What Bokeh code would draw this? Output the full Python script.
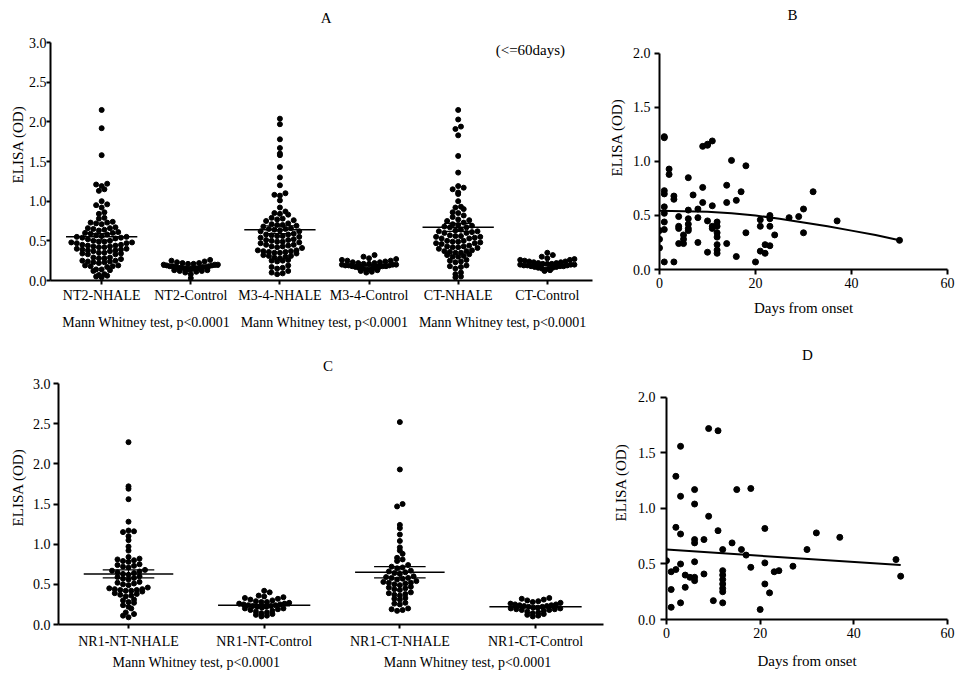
import numpy as np
from bokeh.plotting import figure
from bokeh.layouts import row, column
from bokeh.models import Range1d, FixedTicker, LinearAxis, Label, NumeralTickFormatter
from bokeh.embed import file_html
from bokeh.resources import INLINE

FONT = "Liberation Serif"

# ---------------- data ----------------
cats_A = ["NT2-NHALE", "NT2-Control", "M3-4-NHALE", "M3-4-Control", "CT-NHALE", "CT-Control"]
A_nt2_nhale = [2.15, 1.92, 1.58, 1.22, 1.21, 1.19, 1.15, 1.13, 1.00, 0.96, 0.95, 0.92, 0.86, 0.84, 0.79, 0.78,
               0.74, 0.73, 0.73, 0.72, 0.71, 0.67, 0.66, 0.66, 0.65, 0.64, 0.63,
               0.61, 0.60, 0.60, 0.59, 0.58, 0.57, 0.56, 0.55, 0.55, 0.54, 0.54, 0.53, 0.52,
               0.50, 0.50, 0.49, 0.49, 0.48, 0.48, 0.47, 0.47, 0.45, 0.45, 0.44, 0.44, 0.43, 0.43, 0.42, 0.42,
               0.40, 0.40, 0.39, 0.39, 0.38, 0.38, 0.37, 0.37, 0.35, 0.35, 0.34, 0.34, 0.33, 0.33,
               0.29, 0.29, 0.28, 0.28, 0.27, 0.25, 0.25, 0.24, 0.24, 0.23, 0.23, 0.22,
               0.19, 0.19, 0.18, 0.18, 0.17, 0.14, 0.14, 0.13, 0.12, 0.08, 0.07, 0.06, 0.05, 0.04]
A_nt2_ctrl = [0.26, 0.25, 0.24, 0.23, 0.22, 0.22, 0.21, 0.21, 0.20, 0.20, 0.20, 0.19, 0.19, 0.18, 0.18, 0.18,
              0.17, 0.17, 0.17, 0.16, 0.16, 0.16, 0.15, 0.15, 0.15, 0.14, 0.14, 0.13, 0.13, 0.12, 0.12,
              0.11, 0.10, 0.08, 0.03]
A_m34_nhale = [2.04, 1.97, 1.78, 1.67, 1.60, 1.58, 1.43, 1.30, 1.20, 1.10, 1.08, 1.07, 1.01, 0.92, 0.87, 0.85, 0.84, 0.83,
               0.79, 0.78, 0.77, 0.76, 0.75, 0.72, 0.71, 0.70, 0.70, 0.69, 0.68,
               0.66, 0.65, 0.65, 0.64, 0.63, 0.62, 0.62, 0.59, 0.58, 0.58, 0.57, 0.56, 0.56, 0.55, 0.54,
               0.52, 0.51, 0.51, 0.50, 0.49, 0.49, 0.48, 0.47, 0.45, 0.45, 0.44, 0.43, 0.43, 0.42, 0.41,
               0.38, 0.38, 0.37, 0.37, 0.36, 0.36, 0.35, 0.35, 0.34, 0.32, 0.31, 0.31, 0.30, 0.29, 0.28,
               0.26, 0.25, 0.25, 0.24, 0.19, 0.17, 0.16, 0.15, 0.12, 0.10, 0.09, 0.08]
A_m34_ctrl = [0.32, 0.30, 0.28, 0.27, 0.26, 0.25, 0.25, 0.24, 0.23, 0.23, 0.22, 0.22, 0.21, 0.21, 0.20, 0.20,
              0.20, 0.19, 0.19, 0.19, 0.18, 0.18, 0.18, 0.17, 0.17, 0.16, 0.16, 0.15, 0.15, 0.14, 0.14,
              0.13, 0.12, 0.11, 0.10]
A_ct_nhale = [2.15, 2.03, 1.94, 1.91, 1.83, 1.57, 1.36, 1.19, 1.17, 1.15, 1.11, 1.09, 1.00, 0.93, 0.92, 0.90,
              0.86, 0.85, 0.82, 0.80, 0.77, 0.76, 0.75, 0.73, 0.71, 0.70, 0.69, 0.68, 0.67, 0.67,
              0.64, 0.63, 0.62, 0.62, 0.61, 0.60, 0.60, 0.57, 0.56, 0.56, 0.55, 0.55, 0.54, 0.53, 0.53,
              0.50, 0.50, 0.49, 0.49, 0.48, 0.47, 0.47, 0.46, 0.44, 0.43, 0.43, 0.42, 0.42, 0.41, 0.40,
              0.38, 0.37, 0.37, 0.36, 0.35, 0.35, 0.33, 0.32, 0.31, 0.30, 0.30,
              0.26, 0.25, 0.24, 0.23, 0.19, 0.18, 0.17, 0.15, 0.10, 0.08, 0.05, 0.04]
A_ct_ctrl = [0.35, 0.32, 0.30, 0.28, 0.27, 0.26, 0.26, 0.25, 0.24, 0.24, 0.23, 0.23, 0.22, 0.22, 0.21, 0.21,
             0.21, 0.20, 0.20, 0.20, 0.19, 0.19, 0.19, 0.18, 0.18, 0.18, 0.17, 0.17, 0.16, 0.16, 0.15, 0.15,
             0.14, 0.13, 0.12]
A_means = [0.55, 0.17, 0.64, 0.19, 0.67, 0.20]
A_sem = [0.04, 0.01, 0.05, 0.01, 0.05, 0.01]

cats_C = ["NR1-NT-NHALE", "NR1-NT-Control", "NR1-CT-NHALE", "NR1-CT-Control"]
C_nt_nhale = [2.27, 1.72, 1.69, 1.56, 1.28, 1.17, 1.16, 1.15, 1.10, 1.05, 0.97, 0.92, 0.84, 0.82, 0.81, 0.80, 0.79, 0.78,
              0.75, 0.74, 0.73, 0.72, 0.71, 0.68, 0.67, 0.66, 0.65, 0.64, 0.63, 0.62,
              0.60, 0.59, 0.58, 0.57, 0.56, 0.53, 0.52, 0.51, 0.50, 0.49,
              0.46, 0.45, 0.44, 0.44, 0.43, 0.43, 0.42, 0.42, 0.41, 0.39, 0.38, 0.37, 0.36, 0.35,
              0.31, 0.30, 0.28, 0.27, 0.24, 0.22, 0.20, 0.15, 0.13, 0.11, 0.09]
C_nt_ctrl = [0.42, 0.40, 0.36, 0.35, 0.34, 0.33, 0.32, 0.31, 0.30, 0.29, 0.28, 0.28, 0.27, 0.26, 0.26, 0.25,
             0.25, 0.24, 0.24, 0.23, 0.23, 0.22, 0.22, 0.21, 0.20, 0.20, 0.19, 0.18, 0.17, 0.16, 0.15,
             0.14, 0.13, 0.12, 0.11, 0.10]
C_ct_nhale = [2.52, 1.93, 1.50, 1.47, 1.24, 1.20, 1.12, 1.04, 0.96, 0.92, 0.88, 0.83, 0.81, 0.79,
              0.74, 0.72, 0.71, 0.70, 0.67, 0.66, 0.65, 0.64, 0.63, 0.60, 0.59, 0.58, 0.58, 0.57, 0.56,
              0.54, 0.53, 0.52, 0.52, 0.51, 0.50, 0.49, 0.47, 0.46, 0.45, 0.44, 0.43,
              0.40, 0.39, 0.38, 0.37, 0.36, 0.33, 0.32, 0.31, 0.27, 0.26, 0.25, 0.20, 0.19, 0.18, 0.17]
C_ct_ctrl = [0.33, 0.32, 0.31, 0.30, 0.29, 0.28, 0.27, 0.26, 0.25, 0.25, 0.24, 0.24, 0.23, 0.23, 0.22, 0.22,
             0.21, 0.21, 0.20, 0.20, 0.19, 0.19, 0.18, 0.18, 0.17, 0.16, 0.15, 0.14, 0.13, 0.12, 0.11, 0.10]
C_means = [0.63, 0.24, 0.65, 0.22]
C_sem = [0.05, 0.01, 0.07, 0.01]

mw_text = "Mann Whitney test, p<0.0001"

B_days = [0, 0, 0, 1, 1, 1, 1, 1, 1, 1, 1, 1, 2, 2, 3, 3, 3, 4, 4, 4, 4, 5, 5, 5, 6, 6, 6, 6, 6, 6, 7, 8, 8, 8,
          9, 9, 9, 10, 10, 10, 10, 11, 11, 11, 11, 12, 12, 12, 12, 12, 12, 12, 14, 14, 14, 15, 16, 16, 17,
          18, 18, 20, 21, 21, 21, 22, 22, 23, 23, 23, 23, 24, 27, 29, 30, 30, 32, 37, 50]
B_od = [0.20, 0.28, 0.36, 1.22, 1.23, 0.73, 0.70, 0.58, 0.52, 0.44, 0.37, 0.07, 0.93, 0.88, 0.68, 0.65, 0.07,
        0.49, 0.40, 0.38, 0.24, 0.24, 0.28, 0.32, 0.85, 0.55, 0.47, 0.42, 0.38, 0.36, 0.69, 0.56, 0.48, 0.25,
        1.14, 0.76, 0.62, 1.15, 1.16, 0.45, 0.16, 1.19, 0.59, 0.40, 0.38, 0.44, 0.40, 0.34, 0.30, 0.23, 0.18,
        0.15, 0.78, 0.62, 0.24, 1.01, 0.64, 0.12, 0.72, 0.96, 0.34, 0.07, 0.46, 0.40, 0.17, 0.23, 0.15,
        0.50, 0.47, 0.40, 0.22, 0.32, 0.48, 0.49, 0.56, 0.34, 0.72, 0.45, 0.27]
B_fit_days = [0, 5, 10, 15, 20, 25, 30, 35, 40, 45, 50]
B_fit_od = [0.545, 0.54, 0.535, 0.52, 0.50, 0.47, 0.435, 0.40, 0.36, 0.32, 0.27]

D_days = [0, 1, 1, 1, 2, 2, 2, 3, 3, 3, 3, 3, 4, 4, 5, 6, 6, 6, 6, 6, 6, 6, 8, 8, 9, 9, 10, 11, 11,
          12, 12, 12, 12, 12, 12, 12, 12, 14, 15, 16, 17, 18, 18, 20, 21, 21, 21, 22, 23, 24, 27, 30, 32, 37, 49, 50]
D_od = [0.53, 0.43, 0.27, 0.11, 1.29, 0.83, 0.45, 1.56, 1.11, 0.77, 0.50, 0.15, 0.40, 0.29, 0.38,
        1.17, 1.04, 0.72, 0.69, 0.52, 0.38, 0.35, 0.72, 0.41, 1.72, 0.93, 0.17, 1.70, 0.80,
        0.63, 0.44, 0.40, 0.36, 0.32, 0.28, 0.25, 0.15, 0.69, 1.17, 0.63, 0.58, 1.18, 0.47, 0.09,
        0.82, 0.51, 0.32, 0.24, 0.43, 0.44, 0.48, 0.63, 0.78, 0.74, 0.54, 0.39]
D_fit_days = [0, 50]
D_fit_od = [0.63, 0.49]


# ---------------- helpers ----------------
def row_spread(vals, center, pxx, pxy, row_h=5.5, step=5.5, max_half=30.0):
    """GraphPad-like column scatter: values binned in pixel rows, spread horizontally."""
    vals = np.asarray(vals, dtype=float)
    xs = np.zeros(len(vals))
    bins = np.floor(vals * pxy / row_h).astype(int)
    for b in np.unique(bins):
        idx = np.where(bins == b)[0]
        idx = idx[np.argsort(vals[idx])]
        n = len(idx)
        s = step if n <= 1 else min(step, 2 * max_half / (n - 1))
        offs = (np.arange(n) - (n - 1) / 2.0) * s
        # alternate by rank so slightly higher values are not all on one side
        order = np.argsort(np.abs(offs) + 0.01 * np.arange(n))
        for k, j in enumerate(idx):
            xs[j] = center + offs[order[k]] / pxx
    return xs


def style_axes(p, tick_out, label_standoff, axis_label_standoff, ybound):
    for ax in p.xaxis + p.yaxis:
        ax.axis_line_width = 2
        ax.axis_line_color = "black"
        ax.major_tick_line_width = 2
        ax.major_tick_line_color = "black"
        ax.major_tick_in = 0
        ax.minor_tick_line_color = None
        ax.major_label_text_font = FONT
        ax.major_label_text_font_size = "14px"
        ax.major_label_text_color = "black"
        ax.axis_label_text_font = FONT
        ax.axis_label_text_font_size = "15px"
        ax.axis_label_text_font_style = "normal"
        ax.axis_label_text_color = "black"
    p.yaxis.major_tick_out = tick_out
    p.yaxis.major_label_standoff = label_standoff
    p.yaxis.axis_label_standoff = axis_label_standoff
    p.yaxis.bounds = (0, ybound)
    p.yaxis.formatter = NumeralTickFormatter(format="0.0")
    p.xgrid.grid_line_color = None
    p.ygrid.grid_line_color = None
    p.outline_line_color = None


def add_text(p, text, x, y):
    p.add_layout(Label(x=x, y=y, text=text, text_font=FONT, text_font_size="15px",
                       text_align="center", text_baseline="middle", text_color="black"))


def dot_panel(cats, groups, means, sems, width, height, borders, xr, ytop, pxx, pxy,
              mean_hw, sem_hw, lab_standoff, mw_standoff, ylab_standoffs, spreads):
    p = figure(width=width, height=height, output_backend="svg", toolbar_location=None,
               x_range=Range1d(*xr), y_range=Range1d(0, ytop), frame_align=False,
               min_border_left=borders[0], min_border_right=borders[1],
               min_border_top=borders[2], min_border_bottom=borders[3])
    positions = list(range(1, len(cats) + 1))
    for pos, vals, mh in zip(positions, groups, spreads):
        xs = row_spread(vals, pos, pxx, pxy, max_half=mh)
        p.scatter(xs, vals, marker="circle", size=5, color="black")
    # mean lines and SEM
    x0 = [pos - mean_hw[i] for i, pos in enumerate(positions)]
    x1 = [pos + mean_hw[i] for i, pos in enumerate(positions)]
    p.segment(x0, means, x1, means, line_color="black", line_width=1.5)
    up = [m + s for m, s in zip(means, sems)]
    dn = [m - s for m, s in zip(means, sems)]
    sx0 = [pos - sem_hw for pos in positions]
    sx1 = [pos + sem_hw for pos in positions]
    p.segment(sx0, up, sx1, up, line_color="black", line_width=1.2)
    p.segment(sx0, dn, sx1, dn, line_color="black", line_width=1.2)
    p.segment(positions, dn, positions, up, line_color="black", line_width=1.2)

    p.xaxis.ticker = FixedTicker(ticks=positions)
    p.xaxis.major_label_overrides = {pos: c for pos, c in zip(positions, cats)}
    p.xaxis.major_tick_out = 4
    p.xaxis.major_label_standoff = lab_standoff
    p.yaxis.ticker = FixedTicker(ticks=[0, 0.5, 1.0, 1.5, 2.0, 2.5, 3.0])
    p.yaxis.axis_label = "ELISA (OD)"
    style_axes(p, *ylab_standoffs, 3.0)

    mw_pos = [positions[i] + 0.5 for i in range(0, len(positions), 2)]
    mw = LinearAxis(ticker=FixedTicker(ticks=mw_pos),
                    major_label_overrides={m: mw_text for m in mw_pos},
                    axis_line_color=None, major_tick_line_color=None, minor_tick_line_color=None,
                    major_tick_out=0, major_tick_in=0, major_label_standoff=mw_standoff,
                    major_label_text_font=FONT, major_label_text_font_size="14px",
                    major_label_text_color="black")
    p.add_layout(mw, "below")
    return p


def scatter_panel(days, od, fdays, fod, width, height, borders, ytop, ylab_standoffs, xlab_standoff):
    p = figure(width=width, height=height, output_backend="svg", toolbar_location=None,
               x_range=Range1d(0, 60), y_range=Range1d(0, ytop), frame_align=False,
               min_border_left=borders[0], min_border_right=borders[1],
               min_border_top=borders[2], min_border_bottom=borders[3])
    p.scatter(days, od, marker="circle", size=6, color="black")
    p.line(fdays, fod, line_color="black", line_width=2)
    p.xaxis.ticker = FixedTicker(ticks=[0, 20, 40, 60])
    p.yaxis.ticker = FixedTicker(ticks=[0, 0.5, 1.0, 1.5, 2.0])
    p.xaxis.axis_label = "Days from onset"
    p.yaxis.axis_label = "ELISA (OD)"
    p.xaxis.major_tick_out = 5
    p.xaxis.major_label_standoff = 3
    style_axes(p, *ylab_standoffs, 2.0)
    p.xaxis.axis_label_standoff = xlab_standoff
    return p


# ---------------- panels ----------------
pA = dot_panel(cats_A, [A_nt2_nhale, A_nt2_ctrl, A_m34_nhale, A_m34_ctrl, A_ct_nhale, A_ct_ctrl],
               A_means, A_sem, width=604, height=338, borders=(50, 12, 8, 58),
               xr=(0.426, 6.507), ytop=3.429, pxx=88.8, pxy=79.3,
               mean_hw=[0.40, 0.32, 0.40, 0.32, 0.40, 0.32], sem_hw=0.16,
               lab_standoff=3, mw_standoff=9, ylab_standoffs=(4, 0, 0),
               spreads=[32, 27, 32, 27, 32, 27])
add_text(pA, "A", 3.52, 3.315)
add_text(pA, "(<=60days)", 5.81, 2.9)

pB = scatter_panel(B_days, B_od, B_fit_days, B_fit_od, width=352, height=338,
                   borders=(55, 9, 5, 69), ytop=2.444, ylab_standoffs=(5, 4, 5), xlab_standoff=9)
add_text(pB, "B", 27.7, 2.352)

pC = dot_panel(cats_C, [C_nt_nhale, C_nt_ctrl, C_ct_nhale, C_ct_ctrl],
               C_means, C_sem, width=608, height=335, borders=(58, 5, 12, 49),
               xr=(0.484, 4.501), ytop=3.411, pxx=135.7, pxy=80.3,
               mean_hw=[0.33, 0.34, 0.33, 0.34], sem_hw=0.19,
               lab_standoff=5, mw_standoff=3, ylab_standoffs=(5, 3, 4),
               spreads=[40, 25, 36, 25])
add_text(pC, "C", 2.47, 3.224)

pD = scatter_panel(D_days, D_od, D_fit_days, D_fit_od, width=348, height=335,
                   borders=(58, 9, 7, 54), ytop=2.468, ylab_standoffs=(6, 5, 6), xlab_standoff=12)
add_text(pD, "D", 30.1, 2.378)

layout = column(row(pA, pB), row(pC, pD))
open("out.html", "w").write(file_html(layout, INLINE))
